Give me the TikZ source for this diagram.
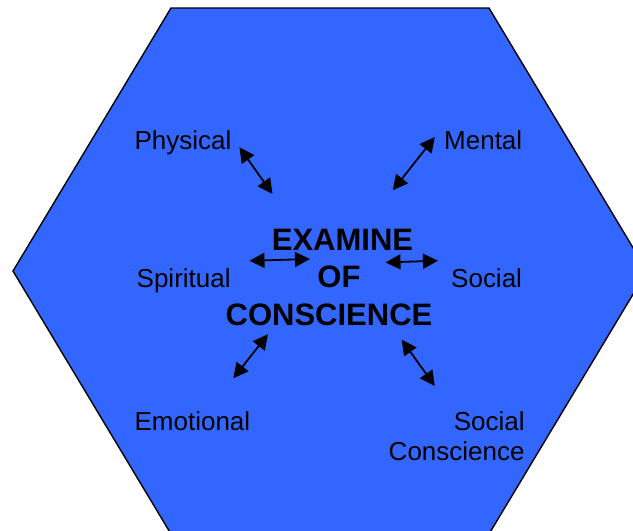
\documentclass[tikz,border=0pt]{standalone}
\usepackage{fontspec}
\setmainfont{Liberation Sans}
\usetikzlibrary{arrows.meta}
\definecolor{hexblue}{RGB}{51,102,255}
\tikzset{
  aspect/.style={font=\fontsize{26}{30}\selectfont, inner sep=0pt},
  twoway/.style={{Triangle[length=15pt,width=15pt]}-{Triangle[length=15pt,width=15pt]}, line width=1.8pt},
}
\begin{document}
\begin{tikzpicture}[x=1pt, y=-1pt]
  \useasboundingbox (0,0) rectangle (633,531);
  \clip (0,0) rectangle (633,531);

  % Hexagon
  \draw[fill=hexblue, line width=1.4pt] (171,8) -- (489,8) -- (647,271) -- (489,534)
    -- (171,534) -- (13,271) -- cycle;

  % Centre
  \node[inner sep=0pt, anchor=base, align=center, font=\fontsize{31}{37.2}\selectfont\bfseries]
    (exam) at (329,325) {\hspace*{27pt}EXAMINE\\\hspace*{20pt}OF\\CONSCIENCE};

  % Aspects
  \node[aspect, anchor=base west] (physical) at (134.4,149) {Physical};
  \node[aspect, anchor=base west] (mental) at (444,149) {Mental};
  \node[aspect, anchor=base west] (spiritual) at (136.5,287.8) {Spiritual};
  \node[aspect, anchor=base west] (social) at (451,287.8) {Social};
  \node[aspect, anchor=base west] (emotional) at (134.4,430.7) {Emotional};
  \node[aspect, anchor=base east, align=right] (socconsc) at (524.8,460.5) {Social\\Conscience};

  % Arrow ends
  \coordinate (phys-a) at (239.4,147.3);
  \coordinate (phys-b) at (272.5,194);
  \coordinate (ment-a) at (434.8,137.1);
  \coordinate (ment-b) at (392.8,190.3);
  \coordinate (spir-a) at (249.5,260.8);
  \coordinate (spir-b) at (310,259);
  \coordinate (soc-a) at (385.5,262.4);
  \coordinate (soc-b) at (438,260.7);
  \coordinate (emo-a) at (268,334.2);
  \coordinate (emo-b) at (233.3,378.3);
  \coordinate (sc-a) at (401.7,339.7);
  \coordinate (sc-b) at (434.8,386);

  % Arrows
  \draw[twoway] (phys-a) -- (phys-b);
  \draw[twoway] (ment-a) -- (ment-b);
  \draw[twoway] (spir-a) -- (spir-b);
  \draw[twoway] (soc-a) -- (soc-b);
  \draw[twoway] (emo-a) -- (emo-b);
  \draw[twoway] (sc-a) -- (sc-b);
\end{tikzpicture}
\end{document}
